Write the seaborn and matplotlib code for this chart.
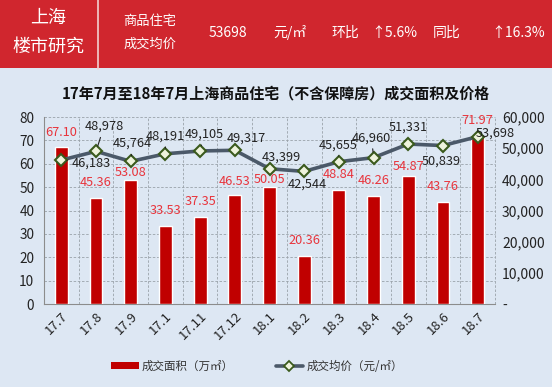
import numpy as np
import pandas as pd
import matplotlib
matplotlib.use("Agg")
import matplotlib.pyplot as plt
import seaborn as sns
from matplotlib.patches import Rectangle
from matplotlib.lines import Line2D
from matplotlib.ticker import FuncFormatter

# Data
months = ['17.7', '17.8', '17.9', '17.1', '17.11', '17.12', '18.1',
          '18.2', '18.3', '18.4', '18.5', '18.6', '18.7']
area = [67.10, 45.36, 53.08, 33.53, 37.35, 46.53, 50.05,
        20.36, 48.84, 46.26, 54.87, 43.76, 71.97]
price = [46183, 48978, 45764, 48191, 49105, 49317, 43399,
         42544, 45655, 46960, 51331, 50839, 53698]

# label placement (pixels), like the hand-moved labels of the original
area_dy = [15, 15, 7, 15, 15, 14, 8, 16, 15, 15, 9, 15, 15]
price_offsets = [(30, -3), (8, 25), (2, 18), (0, 18), (4, 17), (12, 12), (12, 12),
                 (3, -13), (-1, 17), (-2, 20), (0, 17), (-2, -16), (18, 4)]
leaders = [0, 1, 2, 3, 4, 8, 9]

df = pd.DataFrame({'month': months, 'area': area, 'price': price})

sns.set_theme(style="white")
plt.rcParams['font.family'] = ['Noto Sans CJK SC', 'DejaVu Sans']

bg = '#dde7f3'
red_hdr = '#d0262e'
bar_red = '#c00000'
lab_red = '#e8343c'
line_col = '#4b5969'
grid_col = '#9aa2aa'

fig = plt.figure(figsize=(5.52, 3.87), dpi=100, facecolor=bg)
W, H = 552.0, 387.0

# header band
fig.patches.append(Rectangle((0, 1 - 68 / H), 1, 68 / H, transform=fig.transFigure,
                             facecolor=red_hdr, edgecolor='none', zorder=0))
fig.add_artist(Line2D([98 / W, 98 / W], [1 - 69 / H, 1], transform=fig.transFigure,
                      color='#f2d0d0', lw=1.2))
fig.text(48 / W, 1 - 18 / H, '上海', color='white', fontsize=13, ha='center', va='center')
fig.text(48 / W, 1 - 47 / H, '楼市研究', color='white', fontsize=13, ha='center', va='center')
fig.text(150 / W, 1 - 21 / H, '商品住宅', color='white', fontsize=9.5, ha='center', va='center')
fig.text(150 / W, 1 - 44 / H, '成交均价', color='white', fontsize=9.5, ha='center', va='center')
hdr = [(228, '53698'), (290, '元/㎡'), (345, '环比'), (394, '↑5.6%'),
       (447, '同比'), (518, '↑16.3%')]
for xp, t in hdr:
    fig.text(xp / W, 1 - 33 / H, t, color='white', fontsize=10, ha='center', va='center')

fig.text(0.5, 1 - 93 / H, '17年7月至18年7月上海商品住宅（不含保障房）成交面积及价格',
         fontsize=10.8, fontweight='bold', ha='center', va='center', color='#111111')

ax = fig.add_axes([44 / W, 1 - 304 / H, (495 - 44) / W, (304 - 117) / H])
ax.set_facecolor(bg)
sns.barplot(data=df, x='month', y='area', color=bar_red, width=0.37,
            saturation=1, ax=ax, zorder=3)
ax.set_ylim(0, 80)
ax.set_yticks(range(0, 81, 10))
ax.set_xlim(-0.5, len(months) - 0.5)
ax.set_xlabel('')
ax.set_ylabel('')

# dashed grid
for y in range(10, 81, 10):
    ax.axhline(y, color=grid_col, lw=0.6, ls=(0, (3, 2)), zorder=1, clip_on=False)
for x in np.arange(0.5, len(months) + 0.5, 1):
    ax.axvline(x, color=grid_col, lw=0.6, ls=(0, (3, 2)), zorder=1, clip_on=False)
for s in ['top', 'right']:
    ax.spines[s].set_visible(False)
for s in ['left', 'bottom']:
    ax.spines[s].set_color('#8c8c8c')
    ax.spines[s].set_linewidth(0.8)
ax.tick_params(axis='y', length=0, labelsize=9.8, pad=7, colors='#222222')
ax.tick_params(axis='x', length=0, labelsize=9.5, pad=4, colors='#222222')
plt.setp(ax.get_xticklabels(), rotation=45, ha='right', rotation_mode='anchor')

ax2 = ax.twinx()
xpos = np.arange(len(months))
sns.lineplot(x=xpos, y=price, ax=ax2, color=line_col, lw=2.6, marker='D',
             markersize=6, markerfacecolor='#eef3dc', markeredgecolor='#3a5a1c',
             markeredgewidth=1.5, zorder=5)
ax2.set_ylim(0, 60000)
ax2.set_yticks(range(0, 60001, 10000))
ax2.set_xlim(-0.5, len(months) - 0.5)
ax2.yaxis.set_major_formatter(FuncFormatter(lambda v, p: '-' if v == 0 else f'{int(v):,}'))
ax2.tick_params(axis='y', length=0, labelsize=10, pad=5, colors='#222222')
for s in ['top', 'right', 'left', 'bottom']:
    ax2.spines[s].set_visible(False)

# bar labels go on ax2 so they sit over the line
for i, v in enumerate(area):
    yv = v / 80 * 60000
    ax2.annotate(f'{v:.2f}', (i, yv), xytext=(0, area_dy[i]), textcoords='offset pixels',
                 ha='center', va='center', color=lab_red, fontsize=9.2, zorder=6)
for i, v in enumerate(price):
    dx, dy = price_offsets[i]
    arrow = None
    if i in leaders:
        arrow = dict(arrowstyle='-', color='#222222', lw=0.8, shrinkA=1, shrinkB=4)
    ax2.annotate(f'{v:,}', (i, v), xytext=(dx, dy), textcoords='offset pixels',
                 ha='center', va='center', color='#222222', fontsize=9.2, zorder=7,
                 arrowprops=arrow)

handles = [Rectangle((0, 0), 1, 1, facecolor=bar_red, edgecolor='none'),
           Line2D([0], [0], color=line_col, lw=2.6, marker='D', markersize=5,
                  markerfacecolor='#eef3dc', markeredgecolor='#3a5a1c', markeredgewidth=1.3)]
fig.legend(handles, ['成交面积（万㎡）', '成交均价（元/㎡）'], loc='center',
           bbox_to_anchor=(257 / W, 1 - 366 / H), ncol=2, frameon=False, fontsize=8.3,
           handlelength=2.4, handleheight=0.5, columnspacing=3.6, handletextpad=0.3,
           labelcolor='#333333')

fig.savefig('out.png', dpi=100, facecolor=bg)
